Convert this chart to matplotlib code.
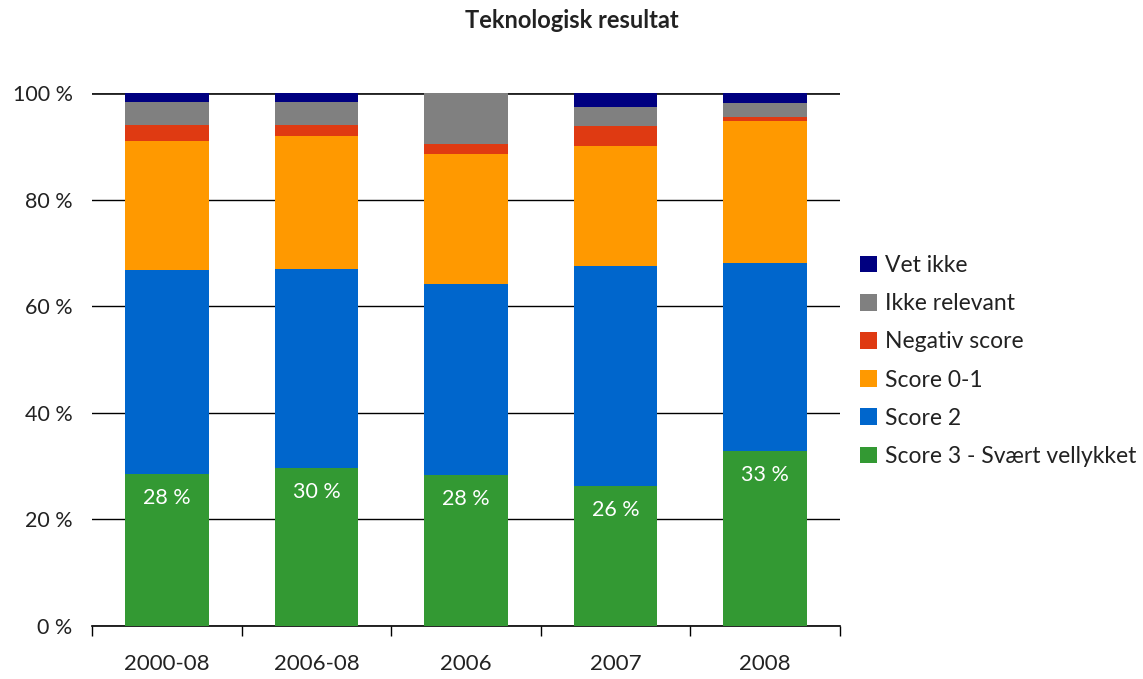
import matplotlib.pyplot as plt
from matplotlib.patches import Patch
import numpy as np

plt.rcParams['font.family'] = ['Lato', 'DejaVu Sans']

# data, percentages
categories = ["2000-08", "2006-08", "2006", "2007", "2008"]
series_names = ["Score 3 - Svært vellykket", "Score 2", "Score 0-1",
                "Negativ score", "Ikke relevant", "Vet ikke"]
score3 = [28.5, 29.6, 28.3, 26.3, 32.8]
score2 = [38.3, 37.4, 35.9, 41.2, 35.3]
score01 = [24.2, 24.9, 24.4, 22.6, 26.6]
negativ = [3.0, 2.1, 1.8, 3.7, 0.8]
ikke_rel = [4.3, 4.3, 9.6, 3.6, 2.6]
vet_ikke = [1.7, 1.7, 0.0, 2.6, 1.9]
green_labels = ["28 %", "30 %", "28 %", "26 %", "33 %"]

colors = ["#339933", "#0066CC", "#FF9900", "#DF3A12", "#808080", "#000080"]

fig = plt.figure(figsize=(11.43, 6.79), dpi=100)
ax = fig.add_axes([92 / 1143, 1 - 626 / 679, 748 / 1143, 533 / 679])

x = np.arange(len(categories))
bottom = np.zeros(len(categories))
for vals, c in zip([score3, score2, score01, negativ, ikke_rel, vet_ikke], colors):
    ax.bar(x, vals, width=0.56, bottom=bottom, color=c, zorder=3)
    bottom += np.array(vals)

# white labels inside the green segments
for xi, v, lab in zip(x, score3, green_labels):
    ax.annotate(lab, (xi, v), xytext=(0, -10), textcoords="offset points",
                ha="center", va="top", color="white", fontsize=15.5, zorder=4)

ax.set_xlim(-0.5, len(categories) - 0.5)
ax.set_ylim(0, 100)
ax.set_yticks(range(0, 101, 20))
ax.set_yticklabels([f"{v} %" for v in range(0, 101, 20)], fontsize=15.5, color="#222222")
ax.yaxis.grid(True, color="black", linewidth=1, zorder=0)
ax.tick_params(axis="y", length=0, pad=14)

ax.set_xticks(x)
ax.set_xticklabels(categories, fontsize=16, color="#222222")
ax.set_xticks(np.arange(-0.5, len(categories), 1), minor=True)
ax.tick_params(axis="x", which="major", length=0, pad=20)
ax.tick_params(axis="x", which="minor", length=7, width=1, direction="out")

for s in ["top", "right", "left"]:
    ax.spines[s].set_visible(False)
ax.spines["bottom"].set_color("black")
ax.spines["bottom"].set_linewidth(1.2)
ax.axhline(100, color="#222222", linewidth=2, zorder=2)

fig.text(0.5, 1 - 20 / 679, "Teknologisk resultat", ha="center", va="center",
         fontsize=17, fontweight="bold", color="#222222")

handles = [Patch(facecolor=c) for c in colors][::-1]
ax.legend(handles, series_names[::-1], loc="center left",
          bbox_to_anchor=(839 / 1143, 1 - 361 / 679), bbox_transform=fig.transFigure,
          frameon=False, fontsize=16.5, handlelength=0.75, handleheight=0.75,
          handletextpad=0.35, labelspacing=0.75, labelcolor="#222222")

fig.savefig("out.png", dpi=100)
